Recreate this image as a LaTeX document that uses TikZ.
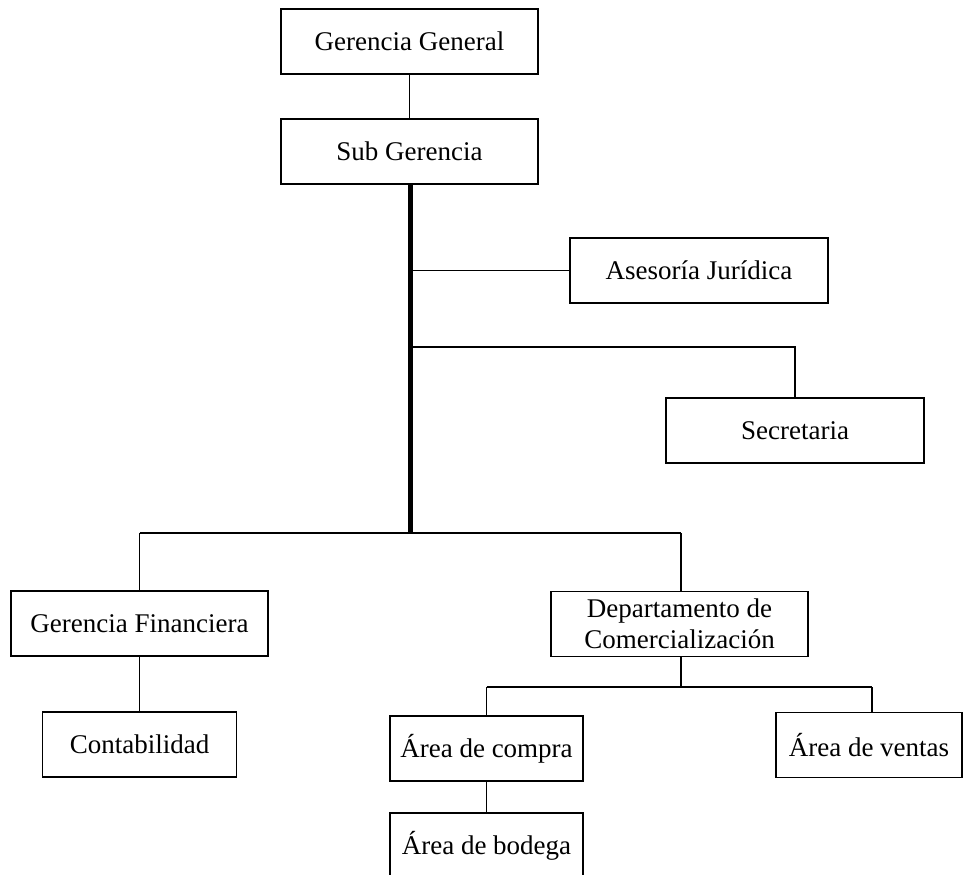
\documentclass[tikz,border=0pt]{standalone}
\usepackage{fontspec}
\setmainfont{Liberation Serif}
\begin{document}
\begin{tikzpicture}[x=1pt,y=-1pt,
  unit/.style={draw, line width=1.3pt, minimum height=65pt, inner sep=0pt,
    align=center, font=\fontsize{27}{31}\selectfont},
  link/.style={line width=1.3pt},
  spine/.style={line width=5pt}]
\useasboundingbox (0,0) rectangle (964,875);

% units of the organisation
\node[unit, minimum width=257pt] (gg)   at (409.5,41.5)  {Gerencia General};
\node[unit, minimum width=257pt] (sg)   at (409.5,151.5) {Sub Gerencia};
\node[unit, minimum width=258pt] (aj)   at (699,270.5)   {Asesoría Jurídica};
\node[unit, minimum width=258pt] (sec)  at (795,430.5)   {Secretaria};
\node[unit, minimum width=257pt] (gf)   at (139.5,623.5) {Gerencia Financiera};
\node[unit, minimum width=194pt] (cont) at (139.5,744.5) {Contabilidad};
\node[unit, minimum width=257pt] (dept) at (679.5,624)   {Departamento de\\Comercialización};
\node[unit, minimum width=193pt] (ac)   at (486.5,748.5) {Área de compra};
\node[unit, minimum width=186pt] (av)   at (869,745)     {Área de ventas};
\node[unit, minimum width=193pt] (ab)   at (486.5,845.5) {Área de bodega};

% junction points
\coordinate (top)  at (410,184);
\coordinate (bot)  at (410,533);
\coordinate (jaj)  at (410,270.5);
\coordinate (jsec) at (410,347);
\coordinate (jgf)  at (139.5,533);
\coordinate (jdp)  at (681,533);
\coordinate (dps)  at (681,656.5);
\coordinate (jcv)  at (681,687);
\coordinate (jac)  at (486.5,687);
\coordinate (jav)  at (872,687);

% connectors
\draw[link] (gg.south) -- (sg.north);
\draw[spine] (top) -- (bot);
\draw[link] (jaj) -- (aj.west);
\draw[link] (jsec) -| (sec.north);
\draw[link] (jgf) -- (jdp);
\draw[link] (jgf) -- (jgf |- gf.north);
\draw[link] (jdp) -- (jdp |- dept.north);
\draw[link] (gf.south) -- (cont.north);
\draw[link] (dps) -- (jcv);
\draw[link] (jac) -- (jav);
\draw[link] (jac) -- (jac |- ac.north);
\draw[link] (jav) -- (jav |- av.north);
\draw[link] (ac.south) -- (ab.north);
\end{tikzpicture}
\end{document}
